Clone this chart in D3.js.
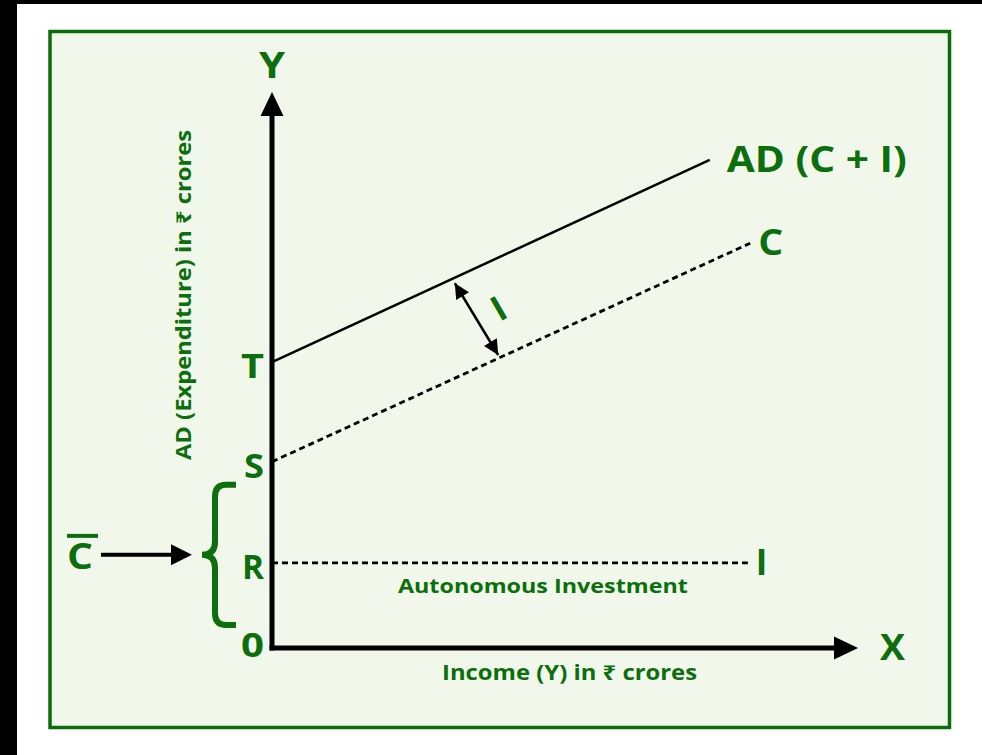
<!DOCTYPE html>
<html>
<head>
<meta charset="utf-8">
<script src="https://cdn.jsdelivr.net/npm/d3@7"></script>
<style>
  body { margin: 0; background: #fff; }
  svg text { font-family: "Open Sans", "Noto Sans", "DejaVu Sans", sans-serif; font-weight: 700; fill: #0c6e0c; }
</style>
</head>
<body>
<div id="chart"></div>
<script>
// points marked on the Y axis (expenditure, 0-100)
var levelNames = ["T", "S", "R", "0"];
var levelValues = [51.4, 33.5, 15.3, 0];

// the three schedules: start on the Y axis, end point
var lineNames = ["AD (C + I)", "C", "I"];
var lineStart = [51.4, 33.5, 15.3];
var lineEndX = [74.7, 81.6, 81.2];
var lineEndY = [87.8, 72.8, 15.3];
var lineDashed = [false, true, true];

// the "I" gap arrow between AD and C
var gapX = [31.2, 38.6];
var gapY = [65.6, 52.7];

(function(){
  var width = 982,
    height = 755,
    green = "#0c6e0c";

  var svg = d3.select("#chart")
    .append("svg")
    .attr("width", width)
    .attr("height", height);

  // black edges of the original screenshot
  svg.append("rect").attr("x", 0).attr("y", 0).attr("width", 17).attr("height", height).attr("fill", "#000");
  svg.append("rect").attr("x", 0).attr("y", 0).attr("width", width).attr("height", 4).attr("fill", "#000");

  // panel
  svg.append("rect")
    .attr("x", 50).attr("y", 31.5)
    .attr("width", 899.5).attr("height", 696)
    .attr("fill", "#f1f8eb")
    .attr("stroke", "#0a6d0a")
    .attr("stroke-width", 3.5);

  var x = d3.scaleLinear().domain([0, 100]).range([272, 858]);
  var y = d3.scaleLinear().domain([0, 100]).range([648, 92]);

  // wide single letters like the original's heavy font
  function widen(sel, w) {
    sel.attr("textLength", w).attr("lengthAdjust", "spacingAndGlyphs");
  }

  var defs = svg.append("defs");
  defs.append("marker")
    .attr("id", "head")
    .attr("viewBox", "0 0 10 10")
    .attr("refX", 10).attr("refY", 5)
    .attr("markerWidth", 6.5).attr("markerHeight", 6)
    .attr("markerUnits", "strokeWidth")
    .attr("orient", "auto-start-reverse")
    .append("path")
    .attr("d", "M0,0 L10,5 L0,10 Z")
    .attr("fill", "#000");

  // axes (arrows)
  var axes = svg.append("g");
  axes.append("line")
    .attr("x1", x(0)).attr("y1", y(0) + 2.5)
    .attr("x2", x(0)).attr("y2", y(100) + 20)
    .attr("stroke", "#000").attr("stroke-width", 5);
  axes.append("path")
    .attr("d", "M" + x(0) + "," + y(100) + " L" + (x(0) + 11.5) + "," + (y(100) + 24) + " L" + (x(0) - 11.5) + "," + (y(100) + 24) + " Z")
    .attr("fill", "#000");
  axes.append("line")
    .attr("x1", x(0) - 2.5).attr("y1", y(0))
    .attr("x2", x(100) - 20).attr("y2", y(0))
    .attr("stroke", "#000").attr("stroke-width", 5);
  axes.append("path")
    .attr("d", "M" + x(100) + "," + y(0) + " L" + (x(100) - 24) + "," + (y(0) - 11.5) + " L" + (x(100) - 24) + "," + (y(0) + 11.5) + " Z")
    .attr("fill", "#000");

  svg.append("text").attr("x", x(0)).attr("y", 78)
    .attr("text-anchor", "middle").style("font-size", "35px").text("Y")
    .call(widen, 26);
  svg.append("text").attr("x", 880).attr("y", 660)
    .style("font-size", "35px").text("X")
    .call(widen, 25);

  // axis titles
  svg.append("text")
    .attr("transform", "translate(191,295) rotate(-90)")
    .attr("text-anchor", "middle")
    .attr("textLength", 330).attr("lengthAdjust", "spacingAndGlyphs")
    .style("font-size", "21px")
    .text("AD (Expenditure) in ₹ crores");
  svg.append("text")
    .attr("x", 569.5).attr("y", 680)
    .attr("text-anchor", "middle")
    .attr("textLength", 255).attr("lengthAdjust", "spacingAndGlyphs")
    .style("font-size", "21px")
    .text("Income (Y) in ₹ crores");

  // schedules
  svg.selectAll(".sched")
    .data(lineNames)
    .enter().append("line")
    .attr("class", "sched")
    .attr("x1", x(0))
    .attr("y1", function(d, i) { return y(lineStart[i]); })
    .attr("x2", function(d, i) { return x(lineEndX[i]); })
    .attr("y2", function(d, i) { return y(lineEndY[i]); })
    .attr("stroke", "#000")
    .attr("stroke-width", function(d, i) { return lineDashed[i] ? 2.8 : 2.5; })
    .attr("stroke-dasharray", function(d, i) { return lineDashed[i] ? "6,4" : null; });

  svg.selectAll(".sched-label")
    .data(lineNames)
    .enter().append("text")
    .attr("class", "sched-label")
    .attr("x", function(d, i) { return x(lineEndX[i]) + (i == 0 ? 17 : 8); })
    .attr("y", function(d, i) { return y(lineEndY[i]) + 12; })
    .attr("textLength", function(d, i) { return i == 0 ? 180 : (i == 1 ? 25 : null); })
    .attr("lengthAdjust", "spacingAndGlyphs")
    .style("font-size", "35px")
    .text(function(d) { return d; });

  svg.append("text")
    .attr("x", (x(0) + x(lineEndX[2])) / 2 + 33)
    .attr("y", y(lineEndY[2]) + 30)
    .attr("text-anchor", "middle")
    .attr("textLength", 290).attr("lengthAdjust", "spacingAndGlyphs")
    .style("font-size", "20px")
    .text("Autonomous Investment");

  // points on the Y axis
  var levelWidth = { T: 23, S: 20, R: 22, "0": 23 };
  svg.selectAll(".level")
    .data(levelNames)
    .enter().append("text")
    .attr("class", "level")
    .attr("x", x(0) - 8)
    .attr("y", function(d, i) { return y(levelValues[i]) + (d == "0" ? 9 : 16); })
    .attr("text-anchor", "end")
    .attr("textLength", function(d) { return levelWidth[d]; })
    .attr("lengthAdjust", "spacingAndGlyphs")
    .style("font-size", "34px")
    .text(function(d) { return d; });

  // gap arrow I
  svg.append("line")
    .attr("x1", x(gapX[0])).attr("y1", y(gapY[0]))
    .attr("x2", x(gapX[1])).attr("y2", y(gapY[1]))
    .attr("stroke", "#000").attr("stroke-width", 2.5)
    .attr("marker-start", "url(#head)")
    .attr("marker-end", "url(#head)");
  svg.append("text")
    .attr("transform", "translate(" + (x((gapX[0] + gapX[1]) / 2) + 22) + "," + (y((gapY[0] + gapY[1]) / 2) - 11) + ") rotate(-30)")
    .attr("text-anchor", "middle")
    .attr("dy", "0.36em")
    .style("font-size", "35px")
    .text("I");

  // brace for autonomous consumption (0 to S)
  var bTop = y(levelValues[1]) + 23,
    bBot = y(0) - 23,
    bMid = (bTop + bBot) / 2,
    bx = 215;
  svg.append("path")
    .attr("d", "M236," + bTop + " L226," + bTop + " Q" + bx + "," + bTop + " " + bx + "," + (bTop + 12) +
      " L" + bx + "," + (bMid - 13) + " Q" + bx + "," + bMid + " 202," + bMid +
      " Q" + bx + "," + bMid + " " + bx + "," + (bMid + 13) +
      " L" + bx + "," + (bBot - 12) + " Q" + bx + "," + bBot + " 226," + bBot + " L236," + bBot)
    .attr("fill", "none")
    .attr("stroke", green)
    .attr("stroke-width", 6);

  // C bar with arrow
  svg.append("text").attr("x", 67).attr("y", bMid + 14)
    .style("font-size", "35px").text("C")
    .call(widen, 26);
  svg.append("line")
    .attr("x1", 67).attr("x2", 98)
    .attr("y1", bMid - 19).attr("y2", bMid - 19)
    .attr("stroke", green).attr("stroke-width", 4);
  svg.append("line")
    .attr("x1", 101).attr("x2", 174)
    .attr("y1", bMid).attr("y2", bMid)
    .attr("stroke", "#000").attr("stroke-width", 4);
  svg.append("path")
    .attr("d", "M192," + bMid + " L171," + (bMid - 10.5) + " L171," + (bMid + 10.5) + " Z")
    .attr("fill", "#000");
})();
</script>
</body>
</html>
